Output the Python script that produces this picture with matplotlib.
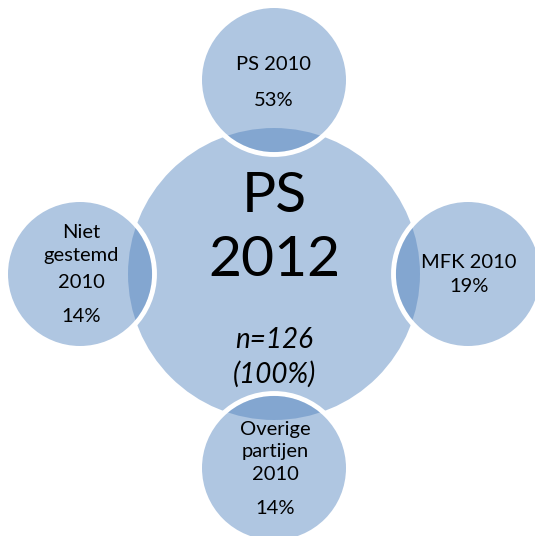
import matplotlib.pyplot as plt
from matplotlib.patches import Circle

plt.rcParams['font.family'] = ['Lato', 'DejaVu Sans']

# data
centre_label = ["PS", "2012"]
centre_n = ["n=126", "(100%)"]
groups = ["PS 2010", "MFK 2010", "Overige partijen 2010", "Niet gestemd 2010"]
shares = ["53%", "19%", "14%", "14%"]

# layout (pixels, y down)
cx, cy, R = 274, 274, 146
d, r = 194, 72
sat_pos = [(cx, cy - d), (cx + d, cy), (cx, cy + d), (cx - d, cy)]
base = '#4f81bd'
a = 0.45

fig = plt.figure(figsize=(5.35, 5.36), dpi=100)
ax = fig.add_axes([0, 0, 1, 1])
ax.set_xlim(0, 535)
ax.set_ylim(536, 0)
ax.set_aspect('equal')
ax.axis('off')

ax.add_patch(Circle((cx, cy), R, facecolor=base, alpha=a, lw=0, zorder=1))
for (x, y) in sat_pos:
    ax.add_patch(Circle((x, y), r + 2.5, facecolor='none', edgecolor='white', lw=3.5, zorder=2))
    ax.add_patch(Circle((x, y), r, facecolor=base, alpha=a, lw=0, zorder=3))

ax.text(cx, 196, centre_label[0], ha='center', va='center', fontsize=41, zorder=5)
ax.text(cx, 261, centre_label[1], ha='center', va='center', fontsize=41, zorder=5)
ax.text(cx, 340, centre_n[0], ha='center', va='center', fontsize=20, style='italic', zorder=5)
ax.text(cx, 374, centre_n[1], ha='center', va='center', fontsize=20, style='italic', zorder=5)

fs = 14.5
# top
ax.text(274, 65, groups[0], ha='center', va='center', fontsize=fs, zorder=5)
ax.text(274, 100, shares[0], ha='center', va='center', fontsize=fs, zorder=5)
# right
ax.text(469, 263, groups[1], ha='center', va='center', fontsize=fs, zorder=5)
ax.text(469, 287, shares[1], ha='center', va='center', fontsize=fs, zorder=5)
# bottom
ax.text(275, 429, "Overige", ha='center', va='center', fontsize=fs, zorder=5)
ax.text(275, 452, "partijen", ha='center', va='center', fontsize=fs, zorder=5)
ax.text(275, 474, "2010", ha='center', va='center', fontsize=fs, zorder=5)
ax.text(275, 508, shares[2], ha='center', va='center', fontsize=fs, zorder=5)
# left
ax.text(81, 233, "Niet", ha='center', va='center', fontsize=fs, zorder=5)
ax.text(81, 256, "gestemd", ha='center', va='center', fontsize=fs, zorder=5)
ax.text(81, 282, "2010", ha='center', va='center', fontsize=fs, zorder=5)
ax.text(81, 317, shares[3], ha='center', va='center', fontsize=fs, zorder=5)

fig.savefig('out.png', dpi=100)
